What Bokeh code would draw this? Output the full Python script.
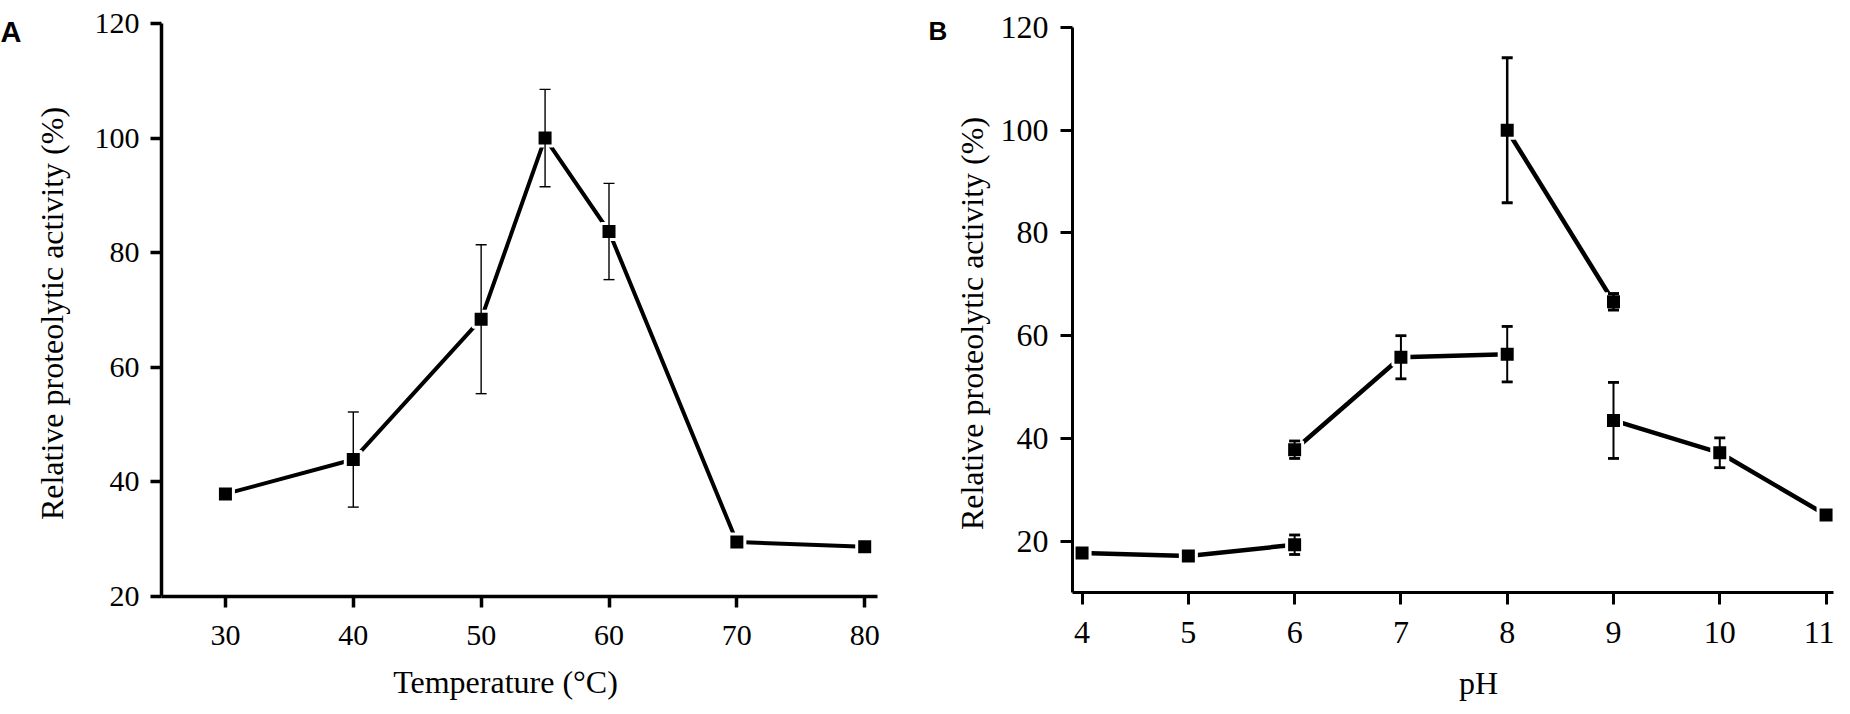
import math
from bokeh.plotting import figure
from bokeh.models import FixedTicker, ColumnDataSource, Whisker, TeeHead, Label, Range1d
from bokeh.layouts import row
from bokeh.embed import file_html
from bokeh.resources import INLINE

# ---- Panel A: temperature ----
temp_c = [30, 40, 50, 55, 60, 70, 80]
temp_activity = [37.9, 43.9, 68.4, 100.0, 83.7, 29.5, 28.7]
temp_error = [0, 8.3, 13.0, 8.5, 8.4, 0, 0]
temp_xticks = [30, 40, 50, 60, 70, 80]
temp_yticks = [20, 40, 60, 80, 100, 120]

# ---- Panel B: pH (four separate buffer series) ----
ph_s1 = [4, 5, 6]
act_s1 = [17.7, 17.1, 19.3]
err_s1 = [0.6, 0, 1.9]

ph_s2 = [6, 7, 8]
act_s2 = [37.8, 55.8, 56.4]
err_s2 = [1.7, 4.2, 5.4]

ph_s3 = [8, 9]
act_s3 = [100.0, 66.6]
err_s3 = [14.1, 1.6]

ph_s4 = [9, 10, 11]
act_s4 = [43.5, 37.2, 25.1]
err_s4 = [7.4, 2.9, 0]

ph_xticks = [4, 5, 6, 7, 8, 9, 10, 11]
ph_yticks = [20, 40, 60, 80, 100, 120]

SERIF = "Liberation Serif"
H = 706
YLABEL = "Relative proteolytic activity (%)"


def make_fig(width, frame_left, frame_top, frame_w, frame_h, xlo, xhi, ylo, yhi):
    # the plot frame covers the whole canvas; axes sit at fixed data locations
    sx = frame_w / (xhi - xlo)
    sy = frame_h / (yhi - ylo)
    xr = Range1d(xlo - frame_left / sx, xhi + (width - frame_left - frame_w) / sx)
    yr = Range1d(ylo - (H - frame_top - frame_h) / sy, yhi + frame_top / sy)
    p = figure(width=width, height=H, output_backend="svg", toolbar_location=None,
               x_range=xr, y_range=yr, min_border=0)
    p.xgrid.visible = False
    p.ygrid.visible = False
    p.outline_line_color = None
    p.background_fill_color = "white"
    p.border_fill_color = "white"
    return p


def style_axes(p, xlo, xhi, ylo, yhi, xticks, yticks, tick_px, tick_out,
               standoff_x, standoff_y, axis_w):
    xa, ya = p.xaxis[0], p.yaxis[0]
    xa.fixed_location = ylo
    ya.fixed_location = xlo
    xa.bounds = (xlo, xhi)
    ya.bounds = (ylo, yhi)
    xa.ticker = FixedTicker(ticks=xticks)
    ya.ticker = FixedTicker(ticks=yticks)
    for ax in (xa, ya):
        ax.axis_line_width = axis_w
        ax.axis_line_color = "black"
        ax.major_tick_line_width = axis_w
        ax.major_tick_line_color = "black"
        ax.major_tick_in = 0
        ax.major_tick_out = tick_out
        ax.minor_tick_line_color = None
        ax.major_label_text_font = SERIF
        ax.major_label_text_font_size = tick_px
        ax.major_label_text_color = "black"
    xa.major_label_standoff = standoff_x
    ya.major_label_standoff = standoff_y


def add_series(p, xs, ys, errs, line_w, err_w, cap_w):
    p.line(xs, ys, line_width=line_w, line_color="black")
    p.scatter(xs, ys, marker="square", size=16, fill_color="black",
              line_color="white", line_width=3)
    bx = [x for x, e in zip(xs, errs) if e > 0]
    up = [y + e for y, e in zip(ys, errs) if e > 0]
    lo = [y - e for y, e in zip(ys, errs) if e > 0]
    if bx:
        src = ColumnDataSource(dict(x=bx, upper=up, lower=lo))
        w = Whisker(source=src, base="x", upper="upper", lower="lower",
                    line_width=err_w, line_color="black", level="annotation",
                    upper_head=TeeHead(size=11, line_width=cap_w, line_color="black"),
                    lower_head=TeeHead(size=11, line_width=cap_w, line_color="black"))
        p.add_layout(w)


def text_label(p, x, y, text, font, size, bold=False, align="left", angle=0.0):
    # screen position: x from the left edge, y up from the bottom edge of the canvas
    p.add_layout(Label(x=x, y=y, x_units="screen", y_units="screen", text=text,
                       text_font=font, text_font_style="bold" if bold else "normal",
                       text_font_size=size, text_baseline="alphabetic",
                       text_align=align, text_color="black", angle=angle))


# ---------------- Figure A ----------------
A_X = (25, 81)
A_Y = (20, 120)
pa = make_fig(900, 161, 23, 716, 573, A_X[0], A_X[1], A_Y[0], A_Y[1])
style_axes(pa, A_X[0], A_X[1], A_Y[0], A_Y[1], temp_xticks, temp_yticks,
           "30px", 11, 18, 11, 3.5)
add_series(pa, temp_c, temp_activity, temp_error, 4, 1.4, 1.4)
text_label(pa, 505, 25, "Temperature (\u00b0C)", SERIF, "32px", align="center")
text_label(pa, 51, 393, YLABEL, SERIF, "32px", align="center", angle=math.pi / 2)
text_label(pa, 0, 675, "A", "Liberation Sans", "29px", bold=True)

# ---------------- Figure B ----------------
B_X = (3.91, 11.07)
B_Y = (10, 120)
pb = make_fig(934, 172, 27, 761, 565, B_X[0], B_X[1], B_Y[0], B_Y[1])
style_axes(pb, B_X[0], B_X[1], B_Y[0], B_Y[1], ph_xticks, ph_yticks,
           "32px", 12, 17, 12, 3)
add_series(pb, ph_s1, act_s1, err_s1, 4.5, 2, 2.8)
add_series(pb, ph_s2, act_s2, err_s2, 4.5, 2, 2.8)
add_series(pb, ph_s3, act_s3, err_s3, 4.5, 2.5, 3)
add_series(pb, ph_s4, act_s4, err_s4, 4.5, 2, 2.8)
text_label(pb, 578, 24, "pH", SERIF, "32px", align="center")
text_label(pb, 71, 383, YLABEL, SERIF, "32px", align="center", angle=math.pi / 2)
text_label(pb, 28, 676, "B", "Liberation Sans", "26px", bold=True)

layout = row(pa, pb)
open("out.html", "w").write(file_html(layout, INLINE))
